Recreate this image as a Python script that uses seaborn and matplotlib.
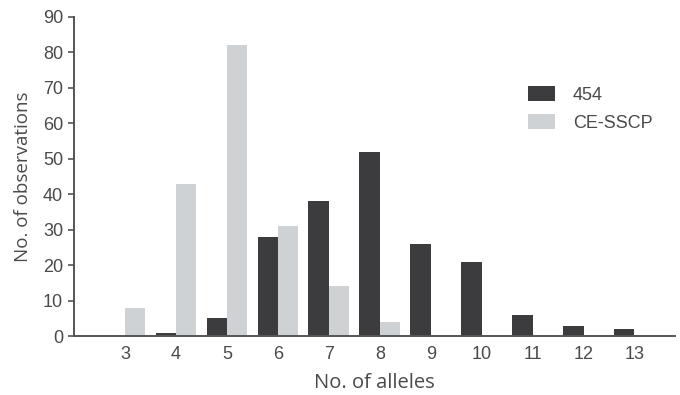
import pandas as pd
import seaborn as sns
import matplotlib.pyplot as plt

# Data
alleles = [3, 4, 5, 6, 7, 8, 9, 10, 11, 12, 13]
obs_454 = [0, 1, 5, 28, 38, 52, 26, 21, 6, 3, 2]
obs_cesscp = [8, 43, 82, 31, 14, 4, 0, 0, 0, 0, 0]
methods = ["454", "CE-SSCP"]
colors = ["#3c3c3e", "#cfd2d5"]

df = pd.DataFrame({
    "alleles": alleles * 2,
    "obs": obs_454 + obs_cesscp,
    "method": [methods[0]] * len(alleles) + [methods[1]] * len(alleles),
})

sns.set_style("white")
plt.rcParams['font.family'] = ['Liberation Sans', 'DejaVu Sans']

fig = plt.figure(figsize=(6.8, 3.95), dpi=100)
ax = fig.add_axes([0.109, 0.149, 0.884, 0.808])

sns.barplot(data=df, x="alleles", y="obs", hue="method", palette=colors,
            width=0.8, saturation=1, linewidth=0, ax=ax, legend=True)

ax.set_ylim(0, 90)
ax.set_xlim(-1.0, 10.8)
ax.set_yticks(range(0, 91, 10))

grey = "#555555"
for side in ["top", "right"]:
    ax.spines[side].set_visible(False)
for side in ["left", "bottom"]:
    ax.spines[side].set_color(grey)
    ax.spines[side].set_linewidth(1.4)

ax.tick_params(axis="y", direction="out", length=4, width=1.2, color=grey,
               labelsize=13, labelcolor="#4a4a4a", pad=4, left=True)
ax.tick_params(axis="x", length=0, labelsize=13, labelcolor="#4a4a4a", pad=7)

label_font = ["Open Sans", "DejaVu Sans"]
ax.set_xlabel("No. of alleles", fontsize=14.5, color="#4a4a4a",
              family=label_font, labelpad=7)
ax.set_ylabel("No. of observations", fontsize=13.5, color="#4a4a4a",
              family=label_font, labelpad=8)

leg = ax.legend(loc="upper left", bbox_to_anchor=(0.728, 0.835), frameon=False,
                fontsize=13, handlelength=1.5, handleheight=0.9,
                labelspacing=0.6, handletextpad=1.0)
for t in leg.get_texts():
    t.set_color("#4a4a4a")

fig.savefig("out.png", dpi=100)
